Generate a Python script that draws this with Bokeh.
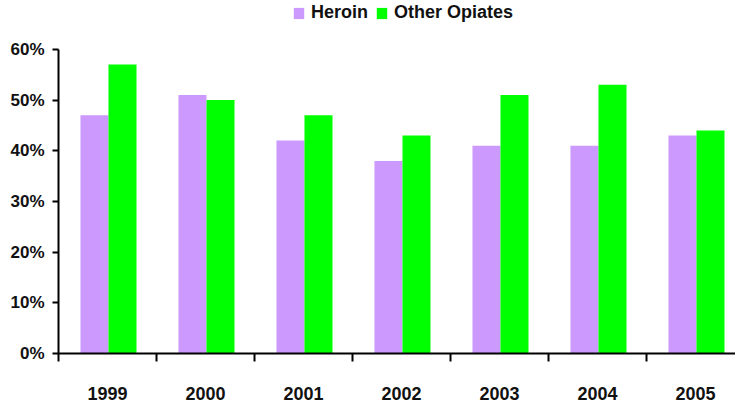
from bokeh.plotting import figure
from bokeh.models import Range1d, FixedTicker, PrintfTickFormatter, Legend, LegendItem, ColumnDataSource
from bokeh.embed import file_html
from bokeh.resources import INLINE

years = ["1999", "2000", "2001", "2002", "2003", "2004", "2005"]
heroin = [47, 51, 42, 38, 41, 41, 43]
other_opiates = [57, 50, 47, 43, 51, 53, 44]
y_ticks = [0, 10, 20, 30, 40, 50, 60]

FONT = "Liberation Sans"
HEROIN_COLOR = "#CC99FF"
OTHER_COLOR = "#00FF00"

idx = list(range(len(years)))
src = ColumnDataSource(dict(
    xh=[i + 0.367 for i in idx],
    xo=[i + 0.653 for i in idx],
    heroin=heroin,
    other=other_opiates,
))

W, H = 735, 402
LEFT, BOTTOM = 58, 48
FRAME_H = H - BOTTOM          # frame starts at the very top
PX_PER_UNIT = 305.0 / 60.0    # 0..60 spans 305 px
y_top = FRAME_H / PX_PER_UNIT

p = figure(width=W, height=H, output_backend="svg", toolbar_location=None,
           x_range=Range1d(0, (W - LEFT) / 98.0), y_range=Range1d(0, y_top),
           min_border_left=LEFT, min_border_right=0, min_border_top=0, min_border_bottom=BOTTOM)
p.outline_line_color = None
p.xgrid.visible = False
p.ygrid.visible = False
p.background_fill_color = "white"
p.border_fill_color = "white"

bw = 0.286
r1 = p.vbar(x="xh", top="heroin", width=bw, source=src, fill_color=HEROIN_COLOR, line_color=None)
r2 = p.vbar(x="xo", top="other", width=bw, source=src, fill_color=OTHER_COLOR, line_color=None)

# x axis
centers = [i + 0.5 for i in idx]
bounds = list(range(len(years) + 1))
xa = p.xaxis[0]
xa.ticker = FixedTicker(ticks=centers, minor_ticks=bounds)
xa.major_label_overrides = {c: y for c, y in zip(centers, years)}
xa.major_tick_out = 0
xa.major_tick_in = 0
xa.minor_tick_out = 8
xa.minor_tick_in = 0
xa.minor_tick_line_width = 2
xa.minor_tick_line_color = "black"
xa.axis_line_width = 2
xa.axis_line_color = "black"
xa.major_label_standoff = 25
xa.major_label_text_font = FONT
xa.major_label_text_font_style = "bold"
xa.major_label_text_font_size = "18px"
xa.major_label_text_color = "#111111"

# y axis
ya = p.yaxis[0]
ya.ticker = FixedTicker(ticks=y_ticks)
ya.bounds = (0, 60)
ya.formatter = PrintfTickFormatter(format="%d%%")
ya.major_tick_out = 6
ya.major_tick_in = 0
ya.major_tick_line_width = 2
ya.minor_tick_out = 0
ya.minor_tick_in = 0
ya.axis_line_width = 2
ya.axis_line_color = "black"
ya.major_label_standoff = 8
ya.major_label_text_font = FONT
ya.major_label_text_font_style = "bold"
ya.major_label_text_font_size = "17px"
ya.major_label_text_color = "#111111"

legend = Legend(items=[LegendItem(label="Heroin", renderers=[r1]),
                       LegendItem(label="Other Opiates", renderers=[r2])],
                orientation="horizontal",
                location=(234, FRAME_H - 24),
                glyph_width=13, glyph_height=14,
                label_height=14, label_standoff=6, spacing=7,
                padding=0, margin=0,
                label_text_font=FONT, label_text_font_style="bold",
                label_text_font_size="18px", label_text_color="#111111",
                border_line_alpha=0, background_fill_alpha=0)
p.add_layout(legend, "center")

open("out.html", "w").write(file_html(p, INLINE))
